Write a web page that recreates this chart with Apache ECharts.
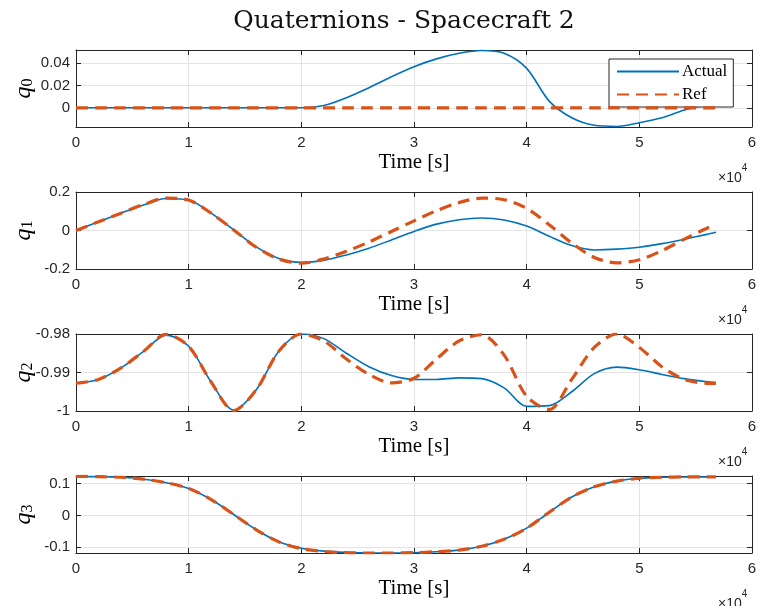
<!DOCTYPE html>
<html>
<head>
<meta charset="utf-8">
<script src="https://cdn.jsdelivr.net/npm/echarts@6/dist/echarts.min.js"></script>
<style>
  html, body { margin: 0; padding: 0; background: #fff; }
  #graph { width: 758px; height: 606px; }
</style>
</head>
<body>
<div id="graph"></div>
<script>
// sample times, in units of 1e4 s
const timeS = [0, 0.2, 0.4, 0.6, 0.8, 1.0, 1.2, 1.4, 1.6, 1.8, 2.0, 2.2, 2.4, 2.6, 2.8, 3.0,
  3.2, 3.4, 3.6, 3.8, 4.0, 4.2, 4.4, 4.6, 4.8, 5.0, 5.2, 5.4, 5.6, 5.68]

const q0Actual = [0, 0, 0, 0, 0, 0, 0, 0, 0, 0, 0, 0.002, 0.009, 0.018, 0.028, 0.037,
  0.044, 0.049, 0.0515, 0.049, 0.0355, 0.006, -0.009, -0.0158, -0.0168, -0.0135, -0.009, -0.002, 0.003, 0.004]
const q0Ref = [0, 0, 0, 0, 0, 0, 0, 0, 0, 0, 0, 0, 0, 0, 0, 0,
  0, 0, 0, 0, 0, 0, 0, 0, 0, 0, 0, 0, 0, 0]

const q1Actual = [0, 0.045, 0.09, 0.133, 0.166, 0.158, 0.09, 0.003, -0.085, -0.145, -0.165, -0.155, -0.127, -0.092, -0.049, -0.005,
  0.033, 0.056, 0.065, 0.055, 0.023, -0.03, -0.078, -0.101, -0.097, -0.087, -0.068, -0.045, -0.02, -0.009]
const q1Ref = [0, 0.045, 0.09, 0.135, 0.168, 0.158, 0.09, 0.003, -0.087, -0.148, -0.17, -0.148, -0.108, -0.06, -0.005, 0.05,
  0.103, 0.145, 0.168, 0.16, 0.115, 0.03, -0.065, -0.14, -0.168, -0.152, -0.105, -0.045, 0.012, 0.03]

const q2Actual = [-0.9928, -0.9918, -0.9888, -0.9845, -0.9803, -0.9832, -0.9925, -0.9998, -0.9945, -0.9845, -0.9800, -0.9812, -0.985, -0.9885, -0.9908, -0.9918,
  -0.9918, -0.9914, -0.9916, -0.9940, -0.9988, -0.9986, -0.9950, -0.9903, -0.9886, -0.9893, -0.9905, -0.9916, -0.9924, -0.9926]
const q2Ref = [-0.9928, -0.9918, -0.9888, -0.9845, -0.9801, -0.9832, -0.9925, -0.9999, -0.9945, -0.9845, -0.9800, -0.9818, -0.9865, -0.9905, -0.9927, -0.9915,
  -0.9865, -0.9818, -0.9802, -0.9855, -0.9962, -0.9996, -0.9918, -0.9835, -0.9800, -0.9835, -0.9885, -0.9918, -0.9928, -0.9928]

const q3Actual = [0.122, 0.122, 0.12, 0.114, 0.103, 0.085, 0.05, 0.003, -0.045, -0.083, -0.103, -0.112, -0.116, -0.118, -0.118, -0.117,
  -0.114, -0.109, -0.097, -0.075, -0.04, 0.01, 0.058, 0.09, 0.108, 0.117, 0.12, 0.121, 0.121, 0.121]
const q3Ref = [0.123, 0.122, 0.12, 0.114, 0.103, 0.085, 0.05, 0.003, -0.045, -0.083, -0.104, -0.113, -0.117, -0.118, -0.118, -0.117,
  -0.114, -0.109, -0.097, -0.075, -0.04, 0.01, 0.058, 0.09, 0.108, 0.117, 0.12, 0.121, 0.121, 0.121]

const xTicks = [0, 1, 2, 3, 4, 5, 6]
const yRanges = [[-0.0173, 0.052], [-0.2, 0.2], [-1, -0.98], [-0.118, 0.124]]
const yTicks = [[0, 0.02, 0.04], [-0.2, 0, 0.2], [-1, -0.99, -0.98], [-0.1, 0, 0.1]]
const yNames = ['0', '1', '2', '3']

const panels = [
  [q0Actual, q0Ref],
  [q1Actual, q1Ref],
  [q2Actual, q2Ref],
  [q3Actual, q3Ref]
]

const blue = '#0072BD'
const orange = '#D95319'
const ink = '#262626'
const serif = 'Liberation Serif'
const sans = 'Liberation Sans'
const gridTops = [50, 192, 334, 476]
const gridH = 77

const zip = v => timeS.map((t, i) => [t * 1e4, v[i]])

const chart = echarts.init(document.getElementById('graph'))

const option = {
  animation: false,
  backgroundColor: '#fff',
  title: [{
    text: 'Quaternions - Spacecraft 2',
    left: 399,
    textAlign: 'center',
    top: 4,
    textStyle: { fontFamily: 'DejaVu Serif', fontSize: 25, fontWeight: 'normal', color: '#111' }
  }],
  legend: {
    data: ['Actual', 'Ref'],
    orient: 'vertical',
    left: 609,
    top: 59,
    padding: [4, 6, 4, 7],
    itemGap: 6,
    itemWidth: 62,
    itemHeight: 14,
    backgroundColor: '#fff',
    borderColor: ink,
    borderWidth: 1,
    borderRadius: 0,
    itemStyle: { opacity: 0 },
    textStyle: { fontFamily: serif, fontSize: 17, color: '#000', padding: [0, 0, 0, -2] }
  },
  grid: [],
  xAxis: [],
  yAxis: [],
  series: []
}

gridTops.forEach((top, i) => {
  option.grid.push({ left: 76, right: 6, top, height: gridH, containLabel: false, outerBoundsMode: 'none' })
  const xCommon = {
    type: 'value',
    gridIndex: i,
    min: 0,
    max: 60000,
    axisLine: { show: true, onZero: false, lineStyle: { color: ink, width: 1 } },
    axisTick: { show: true, inside: true, length: 5, lineStyle: { color: ink },
      customValues: xTicks.map(v => v * 1e4) }
  }
  option.xAxis.push(Object.assign({}, xCommon, {
    position: 'bottom',
    name: 'Time [s]',
    nameLocation: 'middle',
    nameGap: 25,
    nameMoveOverlap: false,
    nameTextStyle: { fontFamily: serif, fontSize: 21, color: '#000' },
    axisLabel: { show: true, margin: 8, fontFamily: sans, fontSize: 15, color: ink,
      customValues: xTicks.map(v => v * 1e4), formatter: v => String(Math.round(v / 1e4)) },
    splitLine: { show: true, lineStyle: { color: '#e3e3e3', width: 1 } }
  }))
  option.xAxis.push(Object.assign({}, xCommon, {
    position: 'top',
    axisLabel: { show: false },
    splitLine: { show: false }
  }))
  const yCommon = {
    type: 'value',
    gridIndex: i,
    min: yRanges[i][0],
    max: yRanges[i][1],
    axisLine: { show: true, onZero: false, lineStyle: { color: ink, width: 1 } },
    axisTick: { show: true, inside: true, length: 5, lineStyle: { color: ink },
      customValues: yTicks[i] }
  }
  option.yAxis.push(Object.assign({}, yCommon, {
    position: 'left',
    name: '{q|q}{s|' + yNames[i] + '}',
    nameLocation: 'middle',
    nameGap: 40,
    nameMoveOverlap: false,
    nameTextStyle: {
      rich: {
        q: { fontFamily: serif, fontStyle: 'italic', fontSize: 24, color: '#000', verticalAlign: 'bottom', lineHeight: 24 },
        s: { fontFamily: serif, fontSize: 16, color: '#000', verticalAlign: 'bottom', lineHeight: 12 }
      }
    },
    axisLabel: { show: true, margin: 6, fontFamily: sans, fontSize: 15, color: ink,
      customValues: yTicks[i], formatter: v => String(+v.toFixed(4)) },
    splitLine: { show: true, lineStyle: { color: '#e3e3e3', width: 1 } }
  }))
  option.yAxis.push(Object.assign({}, yCommon, {
    position: 'right',
    axisLabel: { show: false },
    splitLine: { show: false }
  }))

  option.title.push({
    text: '{a|×10}{b|4}',
    left: 713,
    top: top + gridH + 31,
    textStyle: {
      rich: {
        a: { fontFamily: sans, fontSize: 14, fontWeight: 'normal', color: ink, verticalAlign: 'bottom', lineHeight: 16 },
        b: { fontFamily: sans, fontSize: 10, fontWeight: 'normal', color: ink, verticalAlign: 'top', lineHeight: 22 }
      }
    }
  })

  const [actual, ref] = panels[i]
  option.series.push({
    name: 'Actual',
    type: 'line',
    xAxisIndex: i * 2,
    yAxisIndex: i * 2,
    data: zip(actual),
    smooth: 0.3,
    symbol: 'none',
    lineStyle: { color: blue, width: 1.6 },
    itemStyle: { color: blue },
    z: 3
  })
  option.series.push({
    name: 'Ref',
    type: 'line',
    xAxisIndex: i * 2,
    yAxisIndex: i * 2,
    data: zip(ref),
    smooth: 0.3,
    symbol: 'none',
    lineStyle: { color: orange, width: 3.2, type: [12, 7] },
    itemStyle: { color: orange },
    z: 4
  })
})

chart.setOption(option)
</script>
</body>
</html>
